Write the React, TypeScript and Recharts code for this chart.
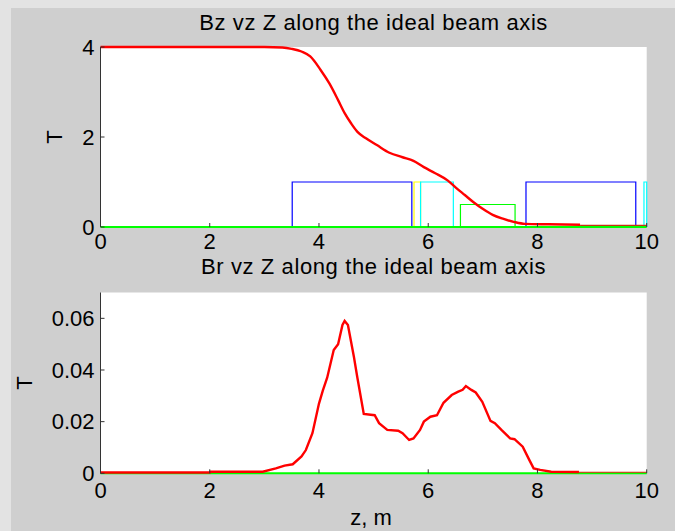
import { CartesianGrid, Line, LineChart, XAxis, YAxis } from "recharts";

// Bz along the beam axis (z in m, Bz in T)
const bzZ = [0, 3.0, 3.33, 3.5, 3.68, 3.84, 4.03, 4.19, 4.35, 4.47, 4.59, 4.7, 4.86, 5.06, 5.29, 5.53, 5.73, 5.92, 6.12, 6.36, 6.51, 6.67, 6.83, 6.99, 7.18, 7.38, 7.58, 7.77, 8.2, 8.78];
const bzT = [4, 4, 3.99, 3.96, 3.9, 3.79, 3.49, 3.19, 2.82, 2.53, 2.3, 2.12, 1.97, 1.82, 1.65, 1.55, 1.47, 1.33, 1.2, 1.03, 0.87, 0.71, 0.55, 0.41, 0.27, 0.18, 0.11, 0.07, 0.06, 0.05];
const bzTailZ = [8.78, 10];
const bzTailT = [0.035, 0.035];

// Br along the beam axis
const brZ = [0, 2.0, 2.01, 2.97, 3.21, 3.37, 3.52, 3.68, 3.76, 3.88, 4.0, 4.07, 4.15, 4.27, 4.35, 4.43, 4.47, 4.53, 4.64, 4.7, 4.82, 5.02, 5.1, 5.25, 5.45, 5.53, 5.65, 5.73, 5.85, 5.92, 6.04, 6.16, 6.28, 6.43, 6.55, 6.63, 6.69, 6.79, 6.87, 6.99, 7.14, 7.22, 7.34, 7.5, 7.58, 7.73, 7.85, 7.93, 8.05, 8.25, 8.76];
const brT = [0.0003, 0.0003, 0.0006, 0.0006, 0.0019, 0.003, 0.0035, 0.0065, 0.009, 0.0155, 0.027, 0.032, 0.037, 0.0477, 0.05, 0.0574, 0.059, 0.0574, 0.045, 0.0374, 0.023, 0.0225, 0.0194, 0.0168, 0.0165, 0.0155, 0.0129, 0.0135, 0.0168, 0.02, 0.0219, 0.0225, 0.0273, 0.0303, 0.0316, 0.0323, 0.0338, 0.0323, 0.0313, 0.0277, 0.0203, 0.0194, 0.0168, 0.0135, 0.0132, 0.0103, 0.0052, 0.0019, 0.0013, 0.0006, 0.0005];
const brTailZ = [8.76, 10];
const brTailT = [0.0004, 0.0004];

// magnet outlines: start z, end z, height
const magnetStart = [3.51, 5.74, 5.86, 6.59, 7.79, 9.95];
const magnetEnd = [5.7, 5.86, 6.46, 7.59, 9.8, 10];
const magnetHeight = [1, 1, 1, 0.5, 1, 1];
const magnetColors = ["#0000ff", "#ffff00", "#00ffff", "#00ff00", "#0000ff", "#00ffff"];

const zTicks = [0, 2, 4, 6, 8, 10];
const bzTicks = [0, 2, 4];
const brTicks = [0, 0.02, 0.04, 0.06];
const baseline = [0, 10];

const font = "'Liberation Sans', Arial, sans-serif";
const tickFont = { fontSize: 22, fill: "#000", fontFamily: font };
const frame = "#333";

const pts = (xs: number[], ys: number[]) => xs.map((z, i) => ({ z, v: ys[i] }));

const outline = (i: number) => {
  const z0 = magnetStart[i];
  const z1 = magnetEnd[i];
  const h = magnetHeight[i];
  return [
    { z: z0, v: 0 },
    { z: z0, v: h },
    { z: z1, v: h },
    { z: z1, v: 0 },
  ];
};

function Axes({ yTicks, yMax, xMargin }: { yTicks: number[]; yMax: number; xMargin: number }) {
  return [
    <CartesianGrid key="g" fill="#fff" stroke="none" horizontal={false} vertical={false} />,
    <XAxis
      key="xb"
      dataKey="z"
      type="number"
      domain={[0, 10]}
      ticks={zTicks}
      tickSize={-4}
      tickMargin={xMargin}
      height={35}
      stroke={frame}
      axisLine={false}
      tick={tickFont}
      interval={0}
    />,
    <XAxis
      key="xt"
      xAxisId="top"
      orientation="top"
      type="number"
      domain={[0, 10]}
      ticks={zTicks}
      tickSize={-4}
      height={0}
      stroke={frame}
      tick={false}
    />,
    <YAxis
      key="yl"
      type="number"
      domain={[0, yMax]}
      ticks={yTicks}
      tickSize={-4}
      tickMargin={10}
      width={100.5}
      stroke={frame}
      tick={tickFont}
      interval={0}
    />,
    <YAxis
      key="yr"
      yAxisId="right"
      orientation="right"
      type="number"
      domain={[0, yMax]}
      ticks={yTicks}
      tickSize={-4}
      width={0}
      stroke={frame}
      tick={false}
    />,
  ];
}

export default function App() {
  return (
    <div style={{ position: "absolute", left: 0, top: 0, width: 675, height: 531, background: "#e3e3e3", overflow: "hidden" }}>
      <div style={{ position: "absolute", left: 11, top: 8, width: 664, height: 523, background: "#cfcfcf" }} />

      <div style={{ position: "absolute", left: 0, top: 0 }}>
        <LineChart width={675} height={265} margin={{ top: 47, right: 28.3, bottom: 3, left: 0 }}>
          {Axes({ yTicks: bzTicks, yMax: 4, xMargin: 10 })}
          {magnetStart.map((_, i) => (
            <Line
              key={"m" + i}
              data={outline(i)}
              dataKey="v"
              type="linear"
              stroke={magnetColors[i]}
              strokeWidth={1.2}
              dot={false}
              activeDot={false}
              isAnimationActive={false}
            />
          ))}
          <Line data={pts(baseline, [0, 0])} dataKey="v" stroke="#00ff00" strokeWidth={2} dot={false} activeDot={false} isAnimationActive={false} />
          <Line data={pts(bzTailZ, bzTailT)} dataKey="v" stroke="#c83010" strokeWidth={1.2} dot={false} activeDot={false} isAnimationActive={false} />
          <Line data={pts(bzZ, bzT)} dataKey="v" type="monotone" stroke="#ff0000" strokeWidth={2.4} dot={false} activeDot={false} isAnimationActive={false} />
        </LineChart>
      </div>

      <div style={{ position: "absolute", left: 0, top: 260 }}>
        <LineChart width={675} height={271} margin={{ top: 32.5, right: 28.3, bottom: 22.7, left: 0 }}>
          {Axes({ yTicks: brTicks, yMax: 0.07, xMargin: 13 })}
          <Line data={pts(baseline, [0, 0])} dataKey="v" stroke="#00ff00" strokeWidth={2} dot={false} activeDot={false} isAnimationActive={false} />
          <Line data={pts(brTailZ, brTailT)} dataKey="v" stroke="#e02010" strokeWidth={1.2} dot={false} activeDot={false} isAnimationActive={false} />
          <Line data={pts(brZ, brT)} dataKey="v" type="linear" stroke="#ff0000" strokeWidth={2.4} dot={false} activeDot={false} isAnimationActive={false} />
        </LineChart>
      </div>

      <svg width={675} height={531} style={{ position: "absolute", left: 0, top: 0, pointerEvents: "none" }}>
        <g fontFamily={font} fontSize={22} fill="#000">
          <text x={373.6} y={30} textAnchor="middle" letterSpacing={0.6}>Bz vz Z along the ideal beam axis</text>
          <text x={373.6} y={274} textAnchor="middle" letterSpacing={0.6}>Br vz Z along the ideal beam axis</text>
          <text x={371} y={525} textAnchor="middle">z, m</text>
          <text x={62} y={137} textAnchor="middle" transform="rotate(-90 62 137)">T</text>
          <text x={32} y={383} textAnchor="middle" transform="rotate(-90 32 383)">T</text>
        </g>
      </svg>
    </div>
  );
}
